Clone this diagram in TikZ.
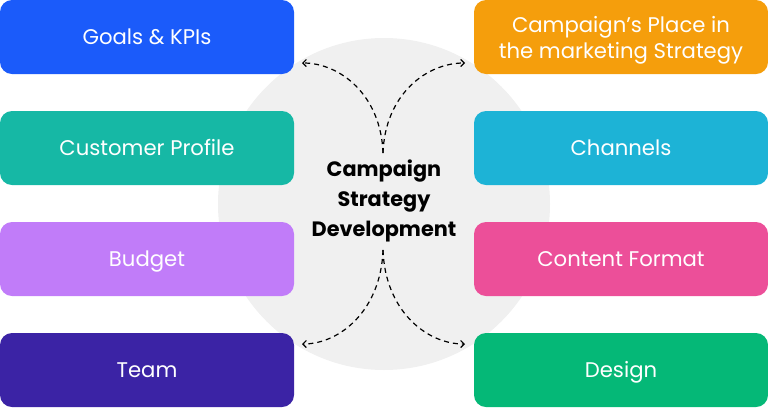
\documentclass[tikz,border=0pt]{standalone}
\usepackage{fontspec}
\setmainfont{Poppins}
\usetikzlibrary{arrows.meta}
\definecolor{cblue}{HTML}{1B5BFA}
\definecolor{cteal}{HTML}{16B8A5}
\definecolor{cpurple}{HTML}{C17CF9}
\definecolor{cindigo}{HTML}{3B23A5}
\definecolor{corange}{HTML}{F59E0C}
\definecolor{ccyan}{HTML}{1DB3D6}
\definecolor{cpink}{HTML}{EC4F99}
\definecolor{cgreen}{HTML}{05B877}
\definecolor{cgray}{HTML}{F0F0F0}
\begin{document}
\begin{tikzpicture}[x=1pt,y=-1pt,
  box/.style={rounded corners=12pt, minimum width=294pt, minimum height=74pt,
    inner sep=0pt, text=white, align=center,
    font=\fontsize{21.2}{26}\selectfont},
  onebox/.style={box, text height=15pt, text depth=0pt},
  conn/.style={line width=1.2pt, dash pattern=on 5pt off 4pt,
    -{Straight Barb[length=3.5pt,width=7pt,line width=1.2pt]}}
]
\useasboundingbox (0,0) rectangle (768,408);
\fill[cgray] (384,204) circle[radius=166];
\node[onebox, fill=cblue]   (goals)    at (147,37)  {Goals \& KPIs};
\node[onebox, fill=cteal]   (customer) at (147,148) {Customer Profile};
\node[onebox, fill=cpurple] (budget)   at (147,259) {Budget};
\node[onebox, fill=cindigo] (team)     at (147,370) {Team};
\node[box, fill=corange] (place)    at (621,37)  {\rule{0pt}{22pt}Campaign’s Place in\\the marketing Strategy};
\node[onebox, fill=ccyan]   (channels) at (621,148) {Channels};
\node[onebox, fill=cpink]   (content)  at (621,259) {Content Format};
\node[onebox, fill=cgreen]  (design)   at (621,370) {Design};
\node[align=center, font=\bfseries\fontsize{20.8}{30}\selectfont] (c) at (384,201)
  {Campaign\\Strategy\\Development};
\coordinate (ts) at (383,153);
\coordinate (bs) at (383,250);
\coordinate (tl) at (302,63);
\coordinate (tr) at (465,63);
\coordinate (bl) at (302,344);
\coordinate (br) at (465,344);
\draw[conn] (ts) .. controls (381,95) and (340,63) .. (tl);
\draw[conn] (ts) .. controls (385,95) and (426,63) .. (tr);
\draw[conn] (bs) .. controls (381,310) and (340,344) .. (bl);
\draw[conn] (bs) .. controls (385,310) and (426,344) .. (br);
\end{tikzpicture}
\end{document}
